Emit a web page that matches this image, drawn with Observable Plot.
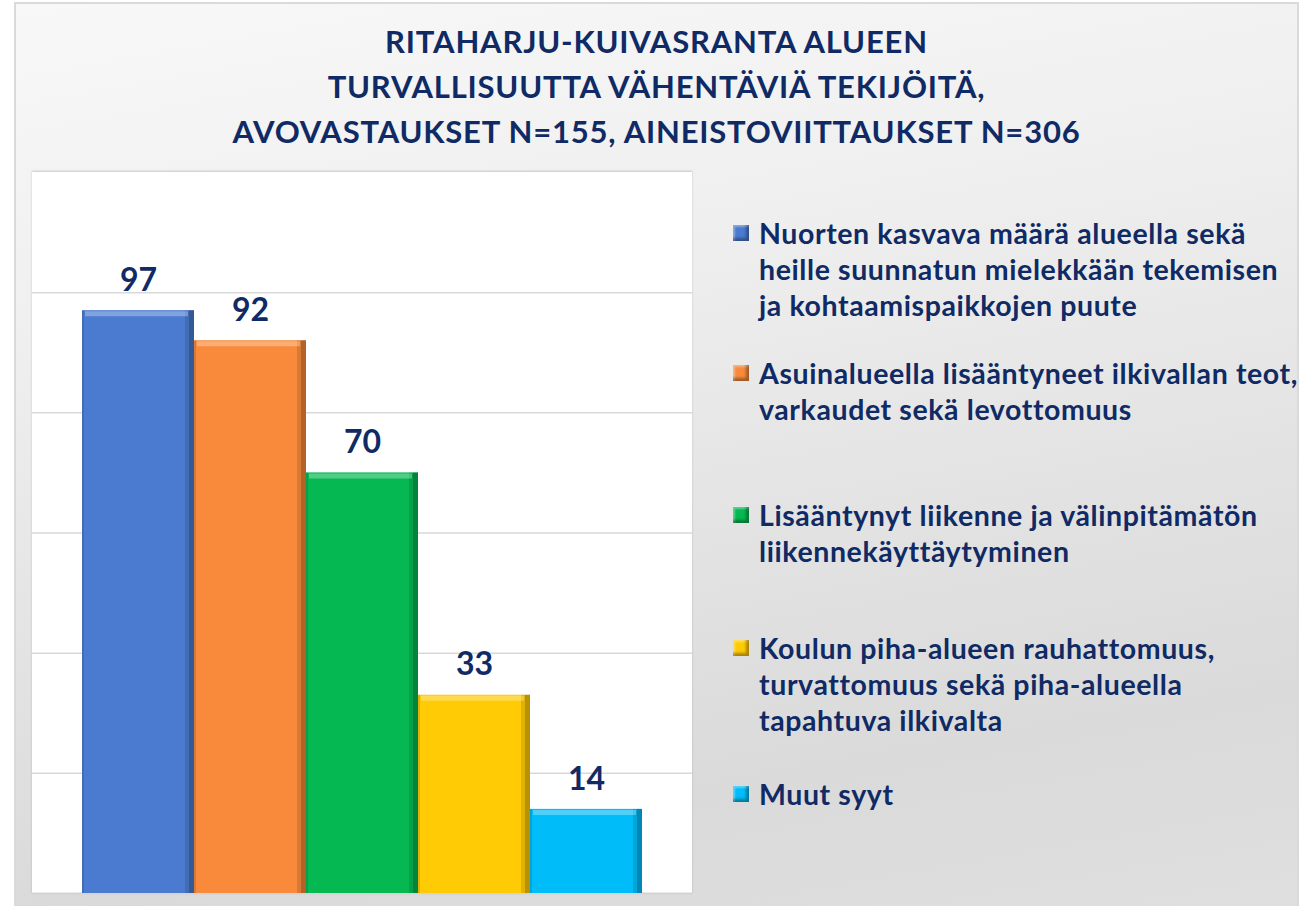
<!DOCTYPE html>
<html>
<head>
<meta charset="utf-8">
<script src="https://cdn.jsdelivr.net/npm/d3@7"></script>
<script src="https://cdn.jsdelivr.net/npm/@observablehq/plot@0.6"></script>
<style>
  html, body { margin: 0; padding: 0; background: #ffffff; }
  body { width: 1304px; height: 906px; position: relative; overflow: hidden; font-family: Lato, "Open Sans", sans-serif; }
  #card {
    position: absolute; left: 14px; top: 2px; width: 1281px; height: 910px;
    border: 2px solid #dadada;
    background: linear-gradient(170deg, #f8f8f8 0%, #efefef 30%, #e2e2e2 60%, #dadada 80%, #dfdfdf 100%);
  }
  #title {
    position: absolute; left: 14px; width: 1285px; top: 19px;
    text-align: center; color: #0f2a64; font-weight: 700; font-size: 31px; line-height: 45px;
    letter-spacing: 0.8px;
  }
  #plotwrap {
    position: absolute; left: 32px; top: 172px; width: 660px; height: 722px;
    background: #ffffff; box-shadow: 0 -1px 2px rgba(0,0,0,0.18);
  }
  .leg { position: absolute; left: 733px; }
  .leg .sw {
    position: absolute; left: 0; width: 16px; height: 16px;
    box-shadow: inset -3px -3px 3px rgba(0,0,0,0.35), inset 2px 2px 2px rgba(255,255,255,0.35);
  }
  .leg .tx {
    position: absolute; left: 26px; white-space: pre; color: #0f2a64; font-weight: 700;
    font-size: 28.5px; line-height: 36px; letter-spacing: 0.6px;
  }
</style>
</head>
<body>
<div id="card"></div>
<div id="title"></div>
<div id="plotwrap"></div>
<div id="legend"></div>
<script>
// ---- data ----
const titleLines = [
  "RITAHARJU-KUIVASRANTA ALUEEN",
  "TURVALLISUUTTA VÄHENTÄVIÄ TEKIJÖITÄ,",
  "AVOVASTAUKSET N=155, AINEISTOVIITTAUKSET N=306"
];
const categories = [
  "Nuorten kasvava määrä alueella sekä\nheille suunnatun mielekkään tekemisen\nja kohtaamispaikkojen puute",
  "Asuinalueella lisääntyneet ilkivallan teot,\nvarkaudet sekä levottomuus",
  "Lisääntynyt liikenne ja välinpitämätön\nliikennekäyttäytyminen",
  "Koulun piha-alueen rauhattomuus,\nturvattomuus sekä piha-alueella\ntapahtuva ilkivalta",
  "Muut syyt"
];
const values = [97, 92, 70, 33, 14];
const gridTicks = [20, 40, 60, 80, 100];
const palette = ["#4a7bd0", "#f98a3b", "#06b852", "#ffcb05", "#00bcf8"];

// ---- layout (not data) ----
const legendLineCenters = [233, 373, 515, 648, 794];

const data = categories.map((c, i) => ({cat: c, value: values[i]}));

document.getElementById("title").innerHTML = titleLines.map(t => `<div>${t}</div>`).join("");

const W = 660, H = 722;
const fontFam = "Lato, 'Open Sans', sans-serif";
const chart = Plot.plot({
  width: W, height: H,
  marginTop: 0, marginBottom: 1, marginLeft: 0, marginRight: 0,
  style: {background: "transparent", fontFamily: fontFam, overflow: "visible"},
  x: {domain: categories, paddingInner: 0, paddingOuter: 0.4255, axis: null},
  y: {domain: [0, 120], axis: null},
  color: {domain: categories, range: palette},
  marks: [
    Plot.gridY(gridTicks, {stroke: "#d9d9d9", strokeOpacity: 1, strokeWidth: 1.5}),
    Plot.ruleY([0], {stroke: "#d4d4d4", strokeWidth: 2}),
    Plot.barY(data, {x: "cat", y: "value", fill: "cat"}),
    // bevel: dark right edge
    Plot.barY(data, {x: "cat", y: "value", fill: "#000", fillOpacity: 0.28, insetLeft: 107}),
    Plot.barY(data, {x: "cat", y: "value", fill: "#000", fillOpacity: 0.12, insetLeft: 103, insetRight: 5}),
    // bevel: slight dark left edge
    Plot.barY(data, {x: "cat", y: "value", fill: "#000", fillOpacity: 0.12, insetRight: 110}),
    // bevel: top highlight
    Plot.tickY(data, {x: "cat", y: "value", stroke: "#ffffff", strokeOpacity: 0.3, strokeWidth: 5, dy: 3, insetLeft: 3, insetRight: 6}),
    Plot.text(data, {x: "cat", y: "value", text: d => String(d.value), dy: -30,
      fontSize: 32, fontWeight: 700, fill: "#0f2a64", fontFamily: fontFam})
  ]
});
document.getElementById("plotwrap").appendChild(chart);

// legend
const leg = document.getElementById("legend");
categories.forEach((c, i) => {
  const cy = legendLineCenters[i];
  const item = document.createElement("div");
  item.className = "leg";
  item.style.top = (cy - 18) + "px";
  const sw = document.createElement("div");
  sw.className = "sw";
  sw.style.background = palette[i];
  sw.style.top = "10px";
  const tx = document.createElement("div");
  tx.className = "tx";
  tx.textContent = c;
  tx.style.top = "0px";
  item.appendChild(sw);
  item.appendChild(tx);
  leg.appendChild(item);
});
</script>
</body>
</html>
